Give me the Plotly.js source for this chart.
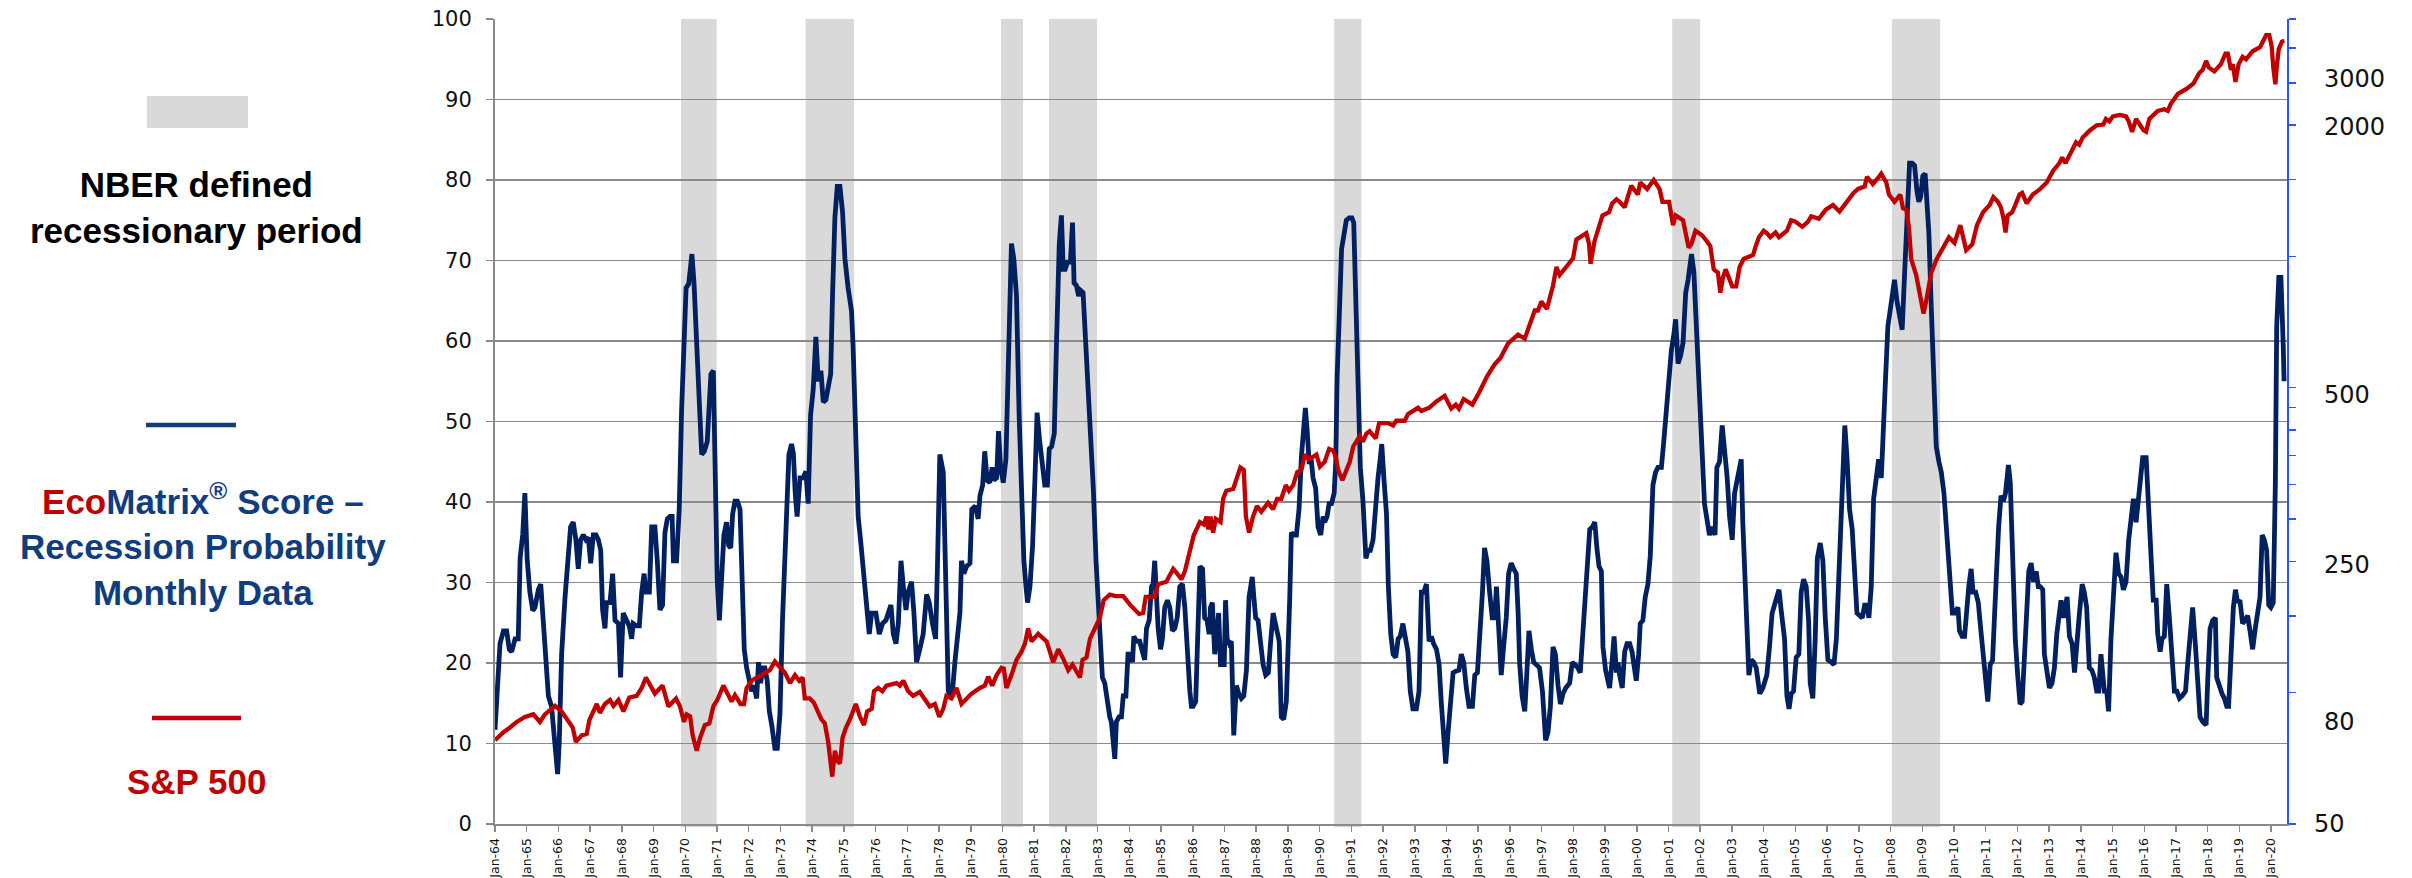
<!DOCTYPE html>
<html><head><meta charset="utf-8">
<script src="https://cdn.plot.ly/plotly-3.0.1.min.js"></script>
<style>html,body{margin:0;padding:0;background:#fff;}#chart{width:2412px;height:878px;}</style>
</head><body><div id="chart"></div>
<script>
// x positions are months since Jan-1964
const yearTickLabels = ['Jan-64','Jan-65','Jan-66','Jan-67','Jan-68','Jan-69','Jan-70','Jan-71','Jan-72','Jan-73','Jan-74','Jan-75','Jan-76','Jan-77','Jan-78','Jan-79','Jan-80','Jan-81','Jan-82','Jan-83','Jan-84','Jan-85','Jan-86','Jan-87','Jan-88','Jan-89','Jan-90','Jan-91','Jan-92','Jan-93','Jan-94','Jan-95','Jan-96','Jan-97','Jan-98','Jan-99','Jan-00','Jan-01','Jan-02','Jan-03','Jan-04','Jan-05','Jan-06','Jan-07','Jan-08','Jan-09','Jan-10','Jan-11','Jan-12','Jan-13','Jan-14','Jan-15','Jan-16','Jan-17','Jan-18','Jan-19','Jan-20'];

// NBER recession bands (month index, start / end as drawn)
const recessionStart = [70.4, 117.5, 191.4, 209.6, 317.5, 445.4, 528.5];
const recessionEnd   = [83.9, 135.8, 199.8, 227.8, 327.8, 456.0, 546.8];

// EcoMatrix score readings: [month index, score]
const ecoReadings = [[0,11.7],[1.9,22.4],[3.2,24],[4.4,24],[5.4,21.7],[6.3,21.4],[7.6,23],[8.8,23],[9.5,33],[10.5,36],[11.3,41.1],[12.2,32.7],[13.2,28.8],[14.3,26.5],[15.1,26.9],[16.4,29.1],[17.3,29.8],[18.3,25.6],[19.3,20.4],[20.2,15.9],[21.4,14.6],[22.3,11],[23.1,8.1],[23.7,6.2],[24.3,10.1],[25.2,21.1],[26.5,28.2],[27.7,34],[28.6,36.9],[29.6,37.5],[30.6,35.3],[31.5,31.7],[32.4,35.3],[33.4,35.9],[34.4,35.3],[35.3,35.6],[36.2,32.4],[37.2,35.9],[38.2,35.9],[39.1,35.3],[40,34],[40.7,26.6],[41.6,24.3],[42.2,27.5],[43.5,27.5],[44.5,31.1],[45.4,25.3],[46.7,24.9],[47.5,18.2],[48.5,26.2],[49.8,25.3],[50.8,24.6],[51.7,23],[52.3,24.9],[53.6,24.6],[54.6,24.6],[55.5,28.8],[56.4,31.1],[57.1,28.8],[58.4,28.8],[59.3,36.9],[60.5,36.9],[61.4,32.7],[62.4,26.6],[63.4,27.2],[64.3,36.2],[65.2,37.9],[66.2,38.2],[67,38.2],[67.5,32.7],[68.7,32.7],[69.7,39.1],[70.6,51.4],[71.5,60.5],[72.3,66.6],[73.3,67.1],[73.8,68.9],[74.5,70.8],[75.3,67.2],[76.3,61.1],[77.3,52.4],[78.2,45.9],[79.2,46.3],[80.3,47.5],[81.1,54],[81.7,55.9],[82.6,56.3],[83.2,46.3],[84.1,30.1],[84.9,25.3],[85.8,31.4],[86.6,35.9],[87.6,37.5],[88.4,34.6],[89.2,34.3],[89.9,38.5],[90.8,40.1],[91.7,40.1],[92.7,39.1],[93.4,32],[94.3,21.7],[95.2,19.4],[96.2,17.5],[97.1,16.5],[98,17.2],[99,15.6],[99.7,20.1],[100.5,17.5],[101.3,19.4],[102.1,19.4],[103,17.8],[103.8,14],[104.7,12.3],[105.3,11],[105.9,9.4],[106.8,9.4],[107.8,13.6],[108.8,25.6],[109.7,32.7],[110.3,39.8],[111.2,45.9],[112.2,47.2],[112.9,46],[113.6,41],[114.3,38.2],[115.4,43],[116.6,43],[117.6,43.8],[118.5,39.8],[119.4,50.8],[120.4,54],[121.4,60.5],[122.3,55],[123.3,56.3],[124.2,52.4],[125.2,52.7],[126.1,54],[127,55.9],[127.7,65.6],[128.6,75.3],[129.5,79.2],[130.5,79.2],[131.5,76],[132.4,70.2],[133.6,66.6],[134.9,63.7],[135.5,59.2],[136.5,45.6],[137.4,38.2],[138.3,35.3],[139.3,32],[140.6,26.9],[141.6,23.6],[142.5,26.2],[144.1,26.2],[145.4,23.6],[146.6,24.9],[147.9,25.3],[149.2,26.9],[149.8,27.2],[150.7,23.6],[151.7,22.4],[152.6,24.9],[153.6,32.7],[154.7,28.8],[155.5,26.6],[156.3,28.8],[157.6,30.1],[158.5,26.2],[159.5,20.1],[160.7,21.7],[162,23.6],[163.3,28.5],[164.3,27.5],[165.5,24.9],[166.7,23],[167.4,32],[168.3,45.9],[169.6,43.7],[170.6,32],[171.5,16.5],[172.1,16.2],[173.1,16.5],[174,20.1],[175.3,24],[175.9,26.2],[176.5,32.7],[177.4,31.1],[178.4,32],[179.7,32.4],[180.4,39.1],[181.7,39.5],[182.8,37.9],[183.5,40.8],[184.5,42.1],[185.3,46.3],[186.2,42.7],[187.2,42.4],[188.1,44.3],[188.7,42.7],[189.8,43],[190.5,48.8],[191.3,44.3],[192.3,42.4],[193.3,45.3],[194.2,56.6],[194.8,66.3],[195.4,72.1],[196.3,70.2],[197.3,65.6],[198.3,50.8],[199.2,40.4],[200.1,32.7],[200.9,29.5],[201.5,27.5],[202.4,29.5],[203.4,34.6],[204.3,43],[205.1,51.1],[206.1,47.5],[207.2,43.7],[208,42.1],[209,42.1],[209.7,46.6],[210.6,46.9],[211.6,48.5],[212.5,60.5],[213.5,72.1],[214.3,75.6],[215,68.9],[215.7,68.9],[216.6,69.8],[217.7,69.8],[218.5,74.7],[219.1,67.2],[220,66.9],[220.8,65.6],[221.5,66.3],[222.5,66],[223.2,61.8],[224.2,55.3],[225.3,49],[226.4,41.5],[227.4,32.7],
[228.8,24.3],[229.8,18.2],[230.7,17.5],[231.6,15.2],[232.6,13.3],[233.2,12.7],[233.9,10.1],[234.5,8.1],[235.1,12.7],[236.1,13.3],[237,13.3],[237.7,15.9],[238.7,15.9],[239.5,21.1],[240.4,21.1],[241.2,20.1],[241.7,23.3],[242.7,22.7],[243.9,22.7],[244.9,21.1],[245.8,20.4],[246.5,24.3],[247.5,25.3],[248.4,29.5],[249,29.8],[249.6,32.7],[250.3,28.2],[250.9,24.3],[251.8,21.7],[252.5,23],[253.4,26.9],[254.4,27.8],[255.3,26.9],[256.3,24],[257.2,24.3],[258.1,25.6],[259.1,29.5],[260.1,29.8],[261,26.9],[261.6,23],[262.2,18.5],[262.9,16.5],[263.5,14.6],[264.1,14.6],[265.1,15.2],[266,24.9],[266.7,32],[267.7,31.7],[268.5,25.6],[269.4,25.3],[270.2,23.6],[270.7,26.9],[271.4,27.5],[272.3,21.1],[272.9,22.7],[273.8,26.2],[274.5,19.8],[275.9,19.8],[276.4,27.8],[277,23],[277.8,22.4],[278.6,22.7],[279.5,11],[280.5,17.2],[281.4,16.2],[282.4,15.6],[283.3,15.9],[284.3,19.1],[285.3,28.2],[286.5,30.7],[287.1,28.2],[287.8,25.6],[288.7,25.3],[289.6,23],[290.6,19.8],[291.6,18.5],[292.6,18.8],[293.4,22.4],[294.4,26.2],[295,25.3],[295.9,23.6],[296.7,22.7],[297.5,13.3],[298.4,13],[299.4,15.2],[300,20.4],[300.7,28.2],[301.3,36.2],[302.2,35.9],[303.2,35.9],[304.2,39.1],[305.1,45.6],[306,48.8],[306.6,51.7],[307.3,48.8],[308,45],[308.9,45],[309.5,43],[310.5,41.7],[311.4,36.9],[312.4,35.9],[313.3,38.2],[313.9,37.5],[314.8,38.2],[315.6,39.8],[316.5,39.8],[317.5,41.1],[318.1,45],[318.6,55.3],[319.4,65],[320.3,71.4],[321.3,73.4],[322.1,75],[323.2,75.3],[324.2,75.3],[324.9,74.7],[325.5,66.9],[326.3,59.8],[326.9,50.1],[327.4,44.3],[328.4,40.1],[329.5,33],[330.3,34],[331.2,34],[332.2,35.3],[333.2,40.4],[334.1,43],[335,45.6],[335.5,47.2],[336.3,43],[337.3,38.5],[338,29.5],[338.9,23.6],[339.8,21.1],
[340.8,20.7],[341.7,23],[342.5,23.3],[343.5,24.9],[344.6,23],[345.4,21.4],[346.3,16.5],[347.3,14.3],[348.6,14.3],[349.6,16.5],[350.5,28.8],[351.4,28.8],[352.4,29.8],[353.4,22.7],[354.3,23.3],[355.1,22.4],[356.2,21.7],[357.2,19.8],[358,15.2],[358.9,10.7],[359.7,7.5],[360.6,11.4],[361.6,16.5],[362.5,18.8],[363.7,19],[364.7,19.1],[365.6,21.1],[366.5,20.1],[367.5,16.9],[368.5,14.6],[369.8,14.6],[370.7,18.5],[371.7,18.8],[372.5,22.4],[373.6,28.8],[374.4,34.3],[375.3,32.7],[376.3,28.8],[377.3,25.6],[378.2,25.6],[378.9,29.5],[379.5,25.9],[380.1,21.7],[380.7,18.5],[381.6,22],[382.6,25.6],[383.5,31.1],[384.5,32.4],[385.4,31.7],[386.4,31.1],[387.1,26.2],[387.7,19.8],[388.6,15.9],[389.6,14],[390.5,19.4],[391.2,24],[392.1,21.7],[393,20.1],[394,19.8],[395.2,19.4],[396.3,16.5],[396.9,13.3],[397.5,10.4],[398.4,11.4],[399.3,14.6],[400.3,22],[401.2,21.1],[402.2,17.2],[403.1,14.9],[404.1,16.2],[405.1,16.9],[406.6,17.5],[407.6,20.1],[408.6,19.8],[409.7,19.4],[410.6,18.8],[411.6,23.3],[412.9,29.1],[414.2,36.6],[415.2,36.9],[416.1,37.5],[416.9,34.3],[417.7,32],[418.6,31.4],[419.2,22],[420.2,19.1],[421.1,17.2],[421.7,16.9],[422.7,20.4],[423.4,23.3],[424.3,18.8],[424.9,20.1],[425.5,18.5],[426.5,16.9],[427.4,21.4],[428.3,22.4],[429.3,22.4],[430.2,21.4],[430.9,19.8],[431.8,17.8],[432.7,21.1],[433.3,24.9],[434.3,25.3],[435.2,28.2],[436.2,29.8],[437.1,33.3],[438.1,42.1],[439.1,43.7],[440,44.3],[441.3,44.3],[442.2,47.5],[443.2,52.1],[444.2,56.6],[445.1,58.9],[445.9,60.5],[446.7,62.7],[447.6,57.2],[448.5,58.1],[449.5,59.8],[450.5,66],[451.4,67.6],[452.7,70.8],[453.6,68.5],[454.3,64],
[455.8,54],[456.8,45.6],[457.6,39.8],[458.5,37.9],[459.5,35.9],[460.5,36.9],[461.6,35.9],[462.3,44.3],[463.3,45],[464.3,49.5],[465.2,46.6],[466.2,43],[467.1,38.2],[468.1,35.3],[469,41.1],[470.3,43.7],[471.5,45.3],[472.1,37.5],[472.8,30.7],[473.7,23.6],[474.4,18.5],[475.3,20.4],[476.2,20.1],[477.2,19.4],[478.5,16.2],[479.7,16.9],[481.2,18.5],[482.2,22],[483.2,26.2],[484.1,27.2],[485,28.2],[485.8,29.1],[486.6,26.6],[487.9,23],[488.8,15.9],[489.6,14.3],[490.4,16.2],[491.3,16.5],[492.3,20.7],[493.3,21.1],[494.2,28.8],[495.1,30.4],[496.1,29.5],[497,25.3],[497.6,17.5],[498.6,15.6],[499.5,23],[500.3,33],[501.4,34.9],[502.4,32.7],[503.3,25.6],[504.3,20.4],[505.6,20.1],[506.6,19.8],[507.5,23],[508.3,28.8],[509.3,37.2],[510.2,45.6],[510.7,49.5],[511.5,45.6],[512.5,39.1],[513.5,36.6],[514.4,30.7],[515.3,26.2],[516.3,25.9],[517.3,25.6],[518.2,27.2],[519.1,27.2],[519.8,25.6],[520.7,29.5],[521.6,40.4],[522.6,43],[523.5,45.3],[524.5,43],[525.1,48.8],[526.1,55.3],[527,61.8],[527.9,64],[528.6,65],[529.5,67.6],[530.4,65],[531.4,63],[532.4,61.4],[533.3,68.2],[534.2,75.3],[535.2,82.1],[536.2,82.1],[537.1,81.8],[538,78.6],[538.7,77.3],[539.4,77.9],[540.2,80.5],[541.1,80.8],[541.8,77.9],[542.5,73.4],[543.4,64.3],[544.3,55.3],[545.3,46.9],[546.3,45],[547.2,43.7],[548.2,41.1],[549.1,36.6],[550.1,30.7],[551.4,26.2],[552.2,26.2],[553.5,26.9],[554.1,24],[555.1,23.3],[556,23.3],[556.6,26.2],[557.6,29.5],[558.5,31.7],[559.2,28.8],[560.2,28.8],[561.2,27.5],[562.1,24.3],[563,21.7],[563.7,18.8],[564.8,15.2],[565.7,19.8],[566.6,20.3],[567.5,27],[568.3,33],
[568.9,36.9],[569.8,40.8],[570.7,40.1],[571.5,41.1],[572.6,44.6],[573.3,42.4],[574.2,32.7],[575.2,23],[576.1,18.5],[577,14.9],[577.8,15.2],[578.6,19.8],[579.5,26.2],[580.3,31.4],[581.2,32.4],[582.1,30.1],[583.1,31.4],[583.9,29.5],[584.6,29.5],[585.6,29.1],[586.2,21.1],[587.1,18.5],[588.1,16.9],[589.1,17.5],[590,19.4],[590.9,23.6],[591.9,26.6],[592.5,27.8],[593.4,25.6],[594.2,27.8],[594.8,28.2],[595.7,23.3],[596.7,22.4],[597.6,18.8],[598.4,21.4],[599.4,25.9],[600.5,29.8],[601.3,28.8],[602.2,26.9],[603.2,19.4],[604.2,19.1],[605.1,18.2],[606,16.5],[606.8,16.5],[607.6,21.1],[608.3,17.8],[608.9,16.5],[609.8,16.5],[610.5,14],[611.4,23],[612.3,28.8],[613.3,33.7],[614.3,31.1],[615.2,30.7],[616.1,29.1],[617.1,30.1],[618.1,35.3],[619,38.5],[619.9,40.4],[620.9,37.5],[621.8,40.4],[622.8,43],[623.4,45.5],[624.7,45.5],[625.7,38.5],[626.6,31.4],[627.4,27.8],[628.5,27.8],[629.1,23.6],[630,21.4],[630.7,23],[631.6,23.3],[632.5,29.8],[633.5,25.6],[634.5,21.1],[635.4,16.5],[636.3,16.5],[637.3,15.6],[638.3,15.9],[639.6,16.5],[640.4,19.8],[641.4,24],[642.3,26.9],[643.3,22.4],[644.2,17.8],[645.1,13.3],[646.1,12.7],[647.4,12.3],[648,17.8],[648.9,24.3],[649.9,25.3],[650.9,25.6],[651.4,18.2],[652.4,16.9],[653.4,16.2],[654.3,15.6],[655.2,14.6],[655.9,14.6],[656.8,22],[657.7,26.9],[658.5,29.1],[659.3,27.5],[660.2,27.8],[661.2,24.9],[662.2,25.3],[663.1,25.9],[664,24],[665,21.7],[666,24.3],[666.9,25.9],[667.8,28.2],[668.6,35.9],[669.4,35.3],[670.3,34],[671.1,27.2],[671.9,26.9],[672.8,27.5],[673.6,42.4],[674.1,61.8],[674.9,67.9],[675.7,67.9],[676.6,59.2],[676.9,55]];

// S&P 500 index level readings: [month index, index level]
const spxReadings = [[0,77.8],[3.2,81.2],[5.7,83.2],[8.2,85.7],[11.3,88],[14.5,89.2],[17,85.7],[18.9,89.2],[22.7,93.3],[25.2,90.6],[27.7,86.1],[29.4,83.2],[30.6,77.1],[32.8,79.8],[34.7,80.5],[35.7,86.5],[38.5,94.2],[39.7,89.9],[41.6,94.2],[43.5,96.2],[44.8,93.3],[46.7,96.2],[48.6,90.6],[50.8,97.4],[53.6,98.3],[55.5,102.5],[57.1,108.3],[58.6,103.8],[60.5,99.5],[63.4,103.8],[65.6,93],[68.5,97],[70,93],[71.5,85.7],[72.5,89.2],[73.8,88.3],[74.8,79.8],[76.3,73.6],[77.6,78.8],[79.4,84.3],[81.1,85],[82.6,93],[84.1,96.2],[86.4,103.8],[88.3,98.3],[89.5,95.4],[90.8,98.7],[92.9,94.2],[94.2,94.2],[95.2,102.5],[97.1,106.5],[99,108.3],[102.1,111.1],[104,112.6],[105.9,117.9],[107.8,114],[109.7,111.1],[111.6,105.2],[113.5,109.7],[115.1,106.5],[116.4,108.3],[117.2,97],[119.1,97],[120.6,95],[122.3,89.9],[123.5,86.9],[124.8,85],[126.1,76.8],[127,68.8],[127.6,64.2],[128.6,73.6],[129.6,69.6],[130.5,68.8],[131.5,78.8],[132.8,83.2],[134.3,86.9],[136.5,94.2],[138.1,88],[139.6,84.3],[140.8,90.6],[142.5,91.8],[143.4,100.8],[145,102.5],[146.6,100.8],[148.1,103.8],[151.9,105.2],[153.2,103.8],[154.5,106.5],[156.3,100.8],[158.2,98.3],[160.7,100.4],[162.6,97],[164.5,93],[166.4,94.2],[168.1,88],[169.6,91.8],[170.8,98.3],[172.7,97],[174.6,102.5],[176.5,94.2],[178.4,97],[180.3,99.5],[183.5,102.5],[185.3,103.8],[186.6,108.8],[188.1,103.8],[189.8,109.7],[191.6,114],[192.5,113.5],[193.5,102.5],[195.4,109.7],[197.3,118.9],[199.2,124.1],[200.5,129.5],[201.7,140.4],[203,131.1],[205.5,136.4],[207.4,132.8],[208.7,131.1],[211.2,117.4],[213.1,125.7],[215.2,118.9],[216.9,112.6],[218.5,116],[221.3,108.3],[222.3,118.9],[223.8,120.4],[225.1,132.8],[226.9,140.4],[228.8,148.3],[230.3,162.9],[232.6,167.8],[234.9,166.4],[237.7,166.4],[240.4,158.7],[241.4,156.8],[243.7,151.5],[245.2,152.2],[246.2,165.7],[249.6,165.7],[250.9,177.3],[254,179.6],[256.6,192.2],[258.1,187.4],[259.7,181.9],[261,189.8],[262.9,212],[264.4,229.8],[266.7,246],[268.2,242.9],[269.2,253.3],[269.9,236.8],[270.7,253.3],[271.7,232.8],[272.7,250.2],[274.5,246],[275.5,278.2],[276.7,290.3],[279.3,292.9],[280.5,310.7],[282,328.4],[283.3,324.2],[284.1,253.3],[285.3,232.8],[286.8,253.3],[288.3,267.7],[289.9,259.9],[292.5,272.3],[294.4,263.2],[295.9,278.2],[297.5,278.2],[299.2,299.1],[300.4,290.3],[302,299.1],[303.5,320.1],[305.1,324.2],[306.4,351.4],[308,342.5],[310.8,351.4],[312.1,329.8],[313.9,338.2],[315.6,362],[317.1,358.9],[318.1,346.9],[319,324.2],[320.6,306.8],[322.1,324.2],[323.4,338.2],[324.7,366.7],[325.9,376.1],[327.2,387.5],[328.4,376.1],[329.7,392.5],[330.9,397.5],[333.2,382.6],[334.5,414.8],[337.9,414.8],[339.8,409.5],[341,420],[344.2,420],[345.4,434.5],[349.2,449.6],[350.5,442],[353.4,449.6],[356.2,465.1],[359.3,479.1],[360.6,462.9],[361.8,447.7],[363.5,457.3],[364.7,447.7],[366.5,471.1],[369.8,457.3],[372.5,489.4],[375.3,530.5],[378.2,565.5],[380.4,585],[383.3,631.5],[387.1,661.7],[389.6,647.8],[390.8,678.9],[393.4,751.6],[394.6,751.6],[395.9,787.6],[398,758.1],[399,801.1],[400.3,857.5],[401.6,945.6],[402.8,906.2],[405.3,945.6],[407.9,990.6],[409.1,1092.4],[412.9,1130.2],[413.9,1069.5],[414.5,961.8],[416,1083.2],[417.3,1159.3],[419,1240.8],[421.5,1262.1],[422.7,1322.6],[424.3,1350.9],[425.5,1333.8],[427.4,1294.7],[428.7,1368.1],[429.9,1452],[432.4,1385.7],[433.3,1477],[435.9,1427.6],[438.4,1495.9],[440.6,1427.6],[441.7,1333.8],[444.2,1333.8],[445.7,1179.2],[446.7,1240.8],[449.5,1209.6],[451.6,1046.9],[452.6,1064.9],[454.2,1144.7],[456.8,1115.9],[458.5,1083.2],[459.8,1055.9],[461.1,933.6],[462.7,917.9],[463.6,825.4],[464.6,894.8],[465.6,933.6],[468.1,853.9],[469.6,853.9],[470.9,945.6],[472.4,986.4],[476,1007.6],[477,1055.9],[478.2,1106.5],[480,1144.7],[481.2,1130.2],[482.5,1106.5],[484.5,1135],[485.8,1106.5],[488.8,1144.7],[490.4,1209.6],[491.7,1204.5],[494.6,1169.2],[496.7,1199.4],[498,1235.6],[500.9,1219.9],[503.4,1278.3],[506.2,1311.3],[508.7,1267.5],[511.5,1333.8],[514,1397.6],[515.7,1427.6],[518.2,1445.9],[519.1,1521.6],[521.3,1464.5],[523.6,1521.6],[524.5,1547.7],[526.4,1477],[527.4,1385.7],[529.5,1333.8],[531.7,1385.7],[532.7,1289.2],[534,1278.3],[535,1159.3],[535.8,986.4],[537.7,906.2],[538.7,846.7],[540.5,739.1],[541.5,791],[543.4,917.9],[545.5,986.4],[547.8,1046.9],[550.1,1106.5],[552.2,1074],[554.4,1179.2],[556.6,1033.7],[558.9,1064.9],[560.7,1179.2],[563,1262.1],[565.5,1311.3],[566.9,1368.1],[568.6,1333.8],[569.8,1294.7],[570.7,1225.1],[571.5,1135],[572.3,1240.8],[574,1262.1],[575.2,1311.3],[576.8,1385.7],[577.8,1397.6],[579.5,1322.6],[581.8,1385.7],[584.3,1421.6],[587.1,1477],[589.4,1567.5],[591.9,1635.6],[592.9,1685],[594.2,1635.6],[596.7,1765.6],[598.2,1826.5],[599.4,1803.5],[600.7,1873.7],[603.5,1946.7],[606,1997.1],[608.5,2005.5],[609.5,2066],[610.8,2039.8],[612.1,2092.6],[614.8,2110.5],[617.1,2092.6],[618.1,2039.8],[619.4,1930.3],[620.9,2066],[623.7,1946.7],[624.7,1930.3],[625.9,2066],[629.1,2155.7],[631.6,2174.2],[632.9,2155.7],[634.1,2239.8],[636.7,2356.8],[639.8,2417.6],[642.6,2490.6],[644.8,2632],[646.1,2677.2],[647.4,2805.3],[648.4,2711.5],[650.5,2654.6],[653,2758.1],[654.7,2914.6],[655.6,2914.6],[656.8,2677.2],[657.5,2758.1],[658.5,2511.8],[659.7,2758.1],[661.2,2865.4],[662.5,2829.2],[665,2952],[667.8,3015.5],[670.1,3213.7],[671.3,3213.7],[672.2,3028.2],[672.8,2711.5],[673.6,2480.1],[674.1,2711.5],[674.9,2989.8],[676.1,3106.2],[677,3119.4]];

// right (S&P, log) axis: tick marks, and the printed labels at the heights where they are printed
const rightTickMarks = [50,100,150,200,250,300,350,400,450,500,1000,1500,2000,2500,3000,3500];
const rightLabelText = ['3000','2000','500','250','80','50'];
const rightLabelAt   = [2555,1980,481,196,85.7,50];
const rightLabelX    = [2322,2322,2322,2322,2322,2312];

// ---- geometry helpers (plot area in pixels) ----
const W = 2412, H = 878, L = 495, R = 2287, T = 19, B = 824;
const px = x => (x - L) / (R - L);
const py = y => (B - y) / (B - T);

const GRID = '#8a8a8a', NAVY = '#002060', RED = '#C00000', AXBLUE = '#2B55F6', TXTBLUE = '#0F3D7E';

const shapes = [];
for (let i = 0; i < recessionStart.length; i++) {
  shapes.push({type:'rect', xref:'x', yref:'paper', x0:recessionStart[i], x1:recessionEnd[i], y0:-0.004, y1:1,
    fillcolor:'#D9D9D9', line:{width:0}, layer:'between'});
}
// legend swatches
shapes.push({type:'rect', xref:'paper', yref:'paper', x0:px(147), x1:px(248), y0:py(128), y1:py(96), fillcolor:'#D9D9D9', line:{width:0}});
shapes.push({type:'line', xref:'paper', yref:'paper', x0:px(146), x1:px(236), y0:py(425), y1:py(425), line:{color:TXTBLUE, width:4.5}});
shapes.push({type:'line', xref:'paper', yref:'paper', x0:px(152), x1:px(241), y0:py(718), y1:py(718), line:{color:RED, width:4.5}});

const legendFont = {family:'Liberation Sans, Arial, sans-serif', size:35};
const annotations = [
  {xref:'paper', yref:'paper', x:px(196), y:py(208), xanchor:'center', yanchor:'middle', showarrow:false,
   text:'<b>NBER defined<br>recessionary period</b>', font:Object.assign({}, legendFont, {color:'#000'})},
  {xref:'paper', yref:'paper', x:px(203), y:py(544), xanchor:'center', yanchor:'middle', showarrow:false,
   text:'<b><span style="color:'+RED+'">Eco</span>Matrix<sup>®</sup> Score –<br>Recession Probability<br>Monthly Data</b>',
   font:Object.assign({}, legendFont, {color:TXTBLUE})},
  {xref:'paper', yref:'paper', x:px(196), y:py(781), xanchor:'center', yanchor:'middle', showarrow:false,
   text:'<b>S&amp;P 500</b>', font:Object.assign({}, legendFont, {color:RED})}
];
// right axis printed labels, placed on the S&P log scale
for (let i = 0; i < rightLabelText.length; i++) {
  annotations.push({xref:'paper', yref:'y2', x:px(rightLabelX[i]), y:Math.log10(rightLabelAt[i]),
    xanchor:'left', yanchor:'middle', showarrow:false, text:rightLabelText[i],
    font:{family:'DejaVu Sans', size:24, color:'#111'}});
}

const traces = [
  {type:'scatter', mode:'lines', x:ecoReadings.map(p=>p[0]), y:ecoReadings.map(p=>p[1]), yaxis:'y',
   line:{color:NAVY, width:4.8}, hoverinfo:'skip', name:'EcoMatrix'},
  {type:'scatter', mode:'lines', x:spxReadings.map(p=>p[0]), y:spxReadings.map(p=>p[1]), yaxis:'y2',
   line:{color:RED, width:4.3}, hoverinfo:'skip', name:'S&P 500'}
];

const logRange = [Math.log10(50), Math.log10(3500)];
const layout = {
  width:W, height:H, margin:{l:L, r:W-R, t:T, b:H-B, pad:0},
  paper_bgcolor:'#ffffff', plot_bgcolor:'#ffffff', showlegend:false,
  xaxis:{range:[0,678], tickvals:yearTickLabels.map((_,i)=>i*12), ticktext:yearTickLabels, tickangle:-90,
    ticks:'outside', ticklen:6, tickwidth:1.5, tickcolor:GRID, showline:true, linecolor:GRID, linewidth:2,
    showgrid:false, zeroline:false, tickfont:{family:'DejaVu Sans', size:12.5, color:'#111'}, ticklabelstandoff:1},
  yaxis:{range:[0,100], tickvals:[0,10,20,30,40,50,60,70,80,90,100], showgrid:true, gridcolor:GRID, gridwidth:1.6,
    showline:true, linecolor:GRID, linewidth:2, ticks:'outside', ticklen:7, tickwidth:1.5, tickcolor:GRID,
    zeroline:false, tickfont:{family:'DejaVu Sans', size:21, color:'#111'}, ticklabelstandoff:10},
  yaxis2:{overlaying:'y', side:'right', type:'log', range:logRange, showline:true, linecolor:AXBLUE, linewidth:2,
    ticks:'outside', ticklen:7, tickwidth:1.5, tickcolor:AXBLUE, tickvals:rightTickMarks, showticklabels:false,
    showgrid:false, zeroline:false},
  shapes:shapes, annotations:annotations
};

Plotly.newPlot('chart', traces, layout, {staticPlot:true, displayModeBar:false});
</script>
</body></html>
